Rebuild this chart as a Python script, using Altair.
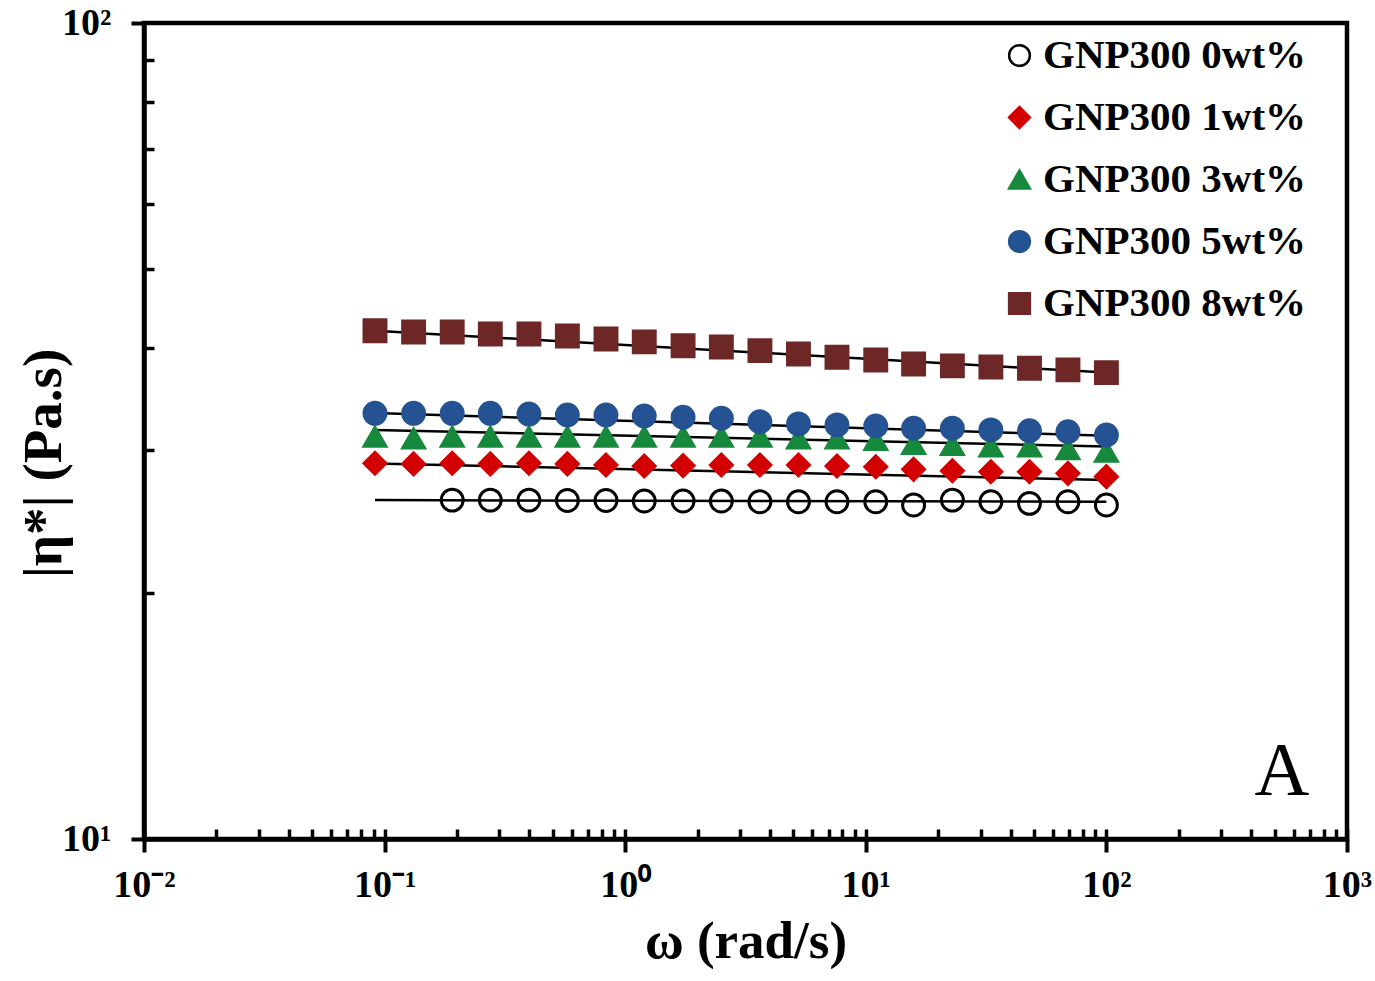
import altair as alt
import pandas as pd

# ---------------- data ----------------
series_names = ["GNP300 0wt%", "GNP300 1wt%", "GNP300 3wt%", "GNP300 5wt%", "GNP300 8wt%"]

omega = [0.0912, 0.132, 0.191, 0.275, 0.398, 0.575, 0.832, 1.20, 1.74, 2.51,
         3.63, 5.25, 7.59, 11.0, 15.8, 22.9, 33.1, 47.9, 69.2, 100.0]

# 0 wt% starts at the third frequency
eta_0wt = [26.02, 26.02, 26.02, 25.99, 25.99, 25.95, 25.95, 25.95, 25.90,
           25.90, 25.90, 25.90, 25.66, 26.02, 25.90, 25.78, 25.90, 25.66]
eta_1wt = [28.87, 28.82, 28.87, 28.82, 28.87, 28.82, 28.73, 28.65, 28.68, 28.73,
           28.73, 28.73, 28.65, 28.59, 28.38, 28.27, 28.19, 28.19, 28.06, 27.80]
eta_3wt = [31.12, 30.97, 31.12, 31.12, 31.12, 31.12, 31.12, 31.12, 31.12, 31.12,
           31.12, 30.97, 30.97, 30.83, 30.48, 30.40, 30.26, 30.26, 30.03, 29.83]
eta_5wt = [33.24, 33.24, 33.24, 33.24, 33.17, 33.08, 33.08, 32.99, 32.87, 32.78,
           32.46, 32.26, 32.17, 32.07, 31.87, 31.87, 31.72, 31.65, 31.56, 31.27]
eta_8wt = [41.97, 41.82, 41.82, 41.58, 41.58, 41.35, 41.00, 40.66, 40.23, 40.08,
           39.67, 39.30, 38.94, 38.64, 38.21, 38.00, 37.89, 37.75, 37.58, 37.29]

# power-law fit lines (start / end)
fit_omega = [0.0912, 100.0]
fit_0wt = [26.02, 25.90]
fit_1wt = [28.85, 27.54]
fit_3wt = [31.71, 30.26]
fit_5wt = [33.27, 31.20]
fit_8wt = [41.97, 37.29]

x_major = [0.01, 0.1, 1, 10, 100, 1000]
x_minor = [m * d for d in [0.01, 0.1, 1, 10, 100] for m in range(2, 10)]
x_tick_labels = ["10⁻²", "10⁻¹", "10⁰", "10¹", "10²", "10³"]
y_major = [10, 100]
y_minor = [20, 30, 40, 50, 60, 70, 80, 90]
y_tick_labels = ["10¹", "10²"]

panel_label = ["A"]
panel_label_omega = [537]
panel_label_eta = [11.32]

shapes = ["circle", "diamond", "triangle-up", "circle", "square"]
fills = ["transparent", "#D20000", "#17893D", "#245292", "#6E2727"]
strokes = ["#000000", "#D20000", "#17893D", "#245292", "#6E2727"]

# ---------------- tables ----------------
pts = []
for name, vals in zip(series_names, [eta_0wt, eta_1wt, eta_3wt, eta_5wt, eta_8wt]):
    xs = omega[len(omega) - len(vals):]
    for x, v in zip(xs, vals):
        pts.append({"series": name, "omega": x, "eta": v})
pts = pd.DataFrame(pts)

fits = []
for name, vals in zip(series_names, [fit_0wt, fit_1wt, fit_3wt, fit_5wt, fit_8wt]):
    for x, v in zip(fit_omega, vals):
        fits.append({"series": name, "omega": x, "eta": v})
fits = pd.DataFrame(fits)

ann = pd.DataFrame({"t": panel_label, "omega": panel_label_omega, "eta": panel_label_eta})

FONT = "Liberation Serif"
x_scale = alt.Scale(type="log", domain=[0.01, 1000], nice=False)
y_scale = alt.Scale(type="log", domain=[10, 100], nice=False)

x_labels_js = "[" + ",".join("'%s'" % s for s in x_tick_labels) + "]"
y_labels_js = "[" + ",".join("'%s'" % s for s in y_tick_labels) + "]"

main_x_axis = alt.Axis(
    orient="bottom", values=x_major, grid=False,
    domain=True, domainColor="black", domainWidth=4.5,
    ticks=True, tickSize=13, tickWidth=4, tickColor="black",
    labelExpr=x_labels_js + "[round(log(datum.value)/LN10)+2]",
    labelFont=FONT, labelFontSize=38, labelFontWeight="bold", labelColor="black",
    labelPadding=14, labelFlush=False, labelOverlap=False,
    title="ω (rad/s)", titleFont=FONT, titleFontSize=53, titleFontWeight="bold",
    titleColor="black", titleBaseline="alphabetic", titleY=118,
)
main_y_axis = alt.Axis(
    orient="left", values=y_major, grid=False,
    domain=True, domainColor="black", domainWidth=4.5,
    ticks=True, tickSize=13, tickWidth=4, tickColor="black",
    labelExpr=y_labels_js + "[round(log(datum.value)/LN10)-1]",
    labelFont=FONT, labelFontSize=38, labelFontWeight="bold", labelColor="black",
    labelPadding=20, labelFlush=False, labelOverlap=False,
    title="|η*| (Pa.s)", titleFont=FONT, titleFontSize=55, titleFontWeight="bold",
    titleColor="black", titleBaseline="alphabetic", titleX=-84, titleY=440,
    titleAngle=270, titleAlign="center",
)
minor_x_axis = alt.Axis(
    orient="bottom", offset=-10, values=x_minor + x_major, grid=False,
    domain=False, labels=False, ticks=True, tickSize=10, tickWidth=3.5,
    tickColor="black", title=None,
)
minor_y_axis = alt.Axis(
    orient="left", offset=-10, values=y_minor, grid=False,
    domain=False, labels=False, ticks=True, tickSize=10, tickWidth=3.5,
    tickColor="black", title=None,
)

legend = alt.Legend(
    title=None, orient="none", legendX=855, legendY=12,
    labelFont=FONT, labelFontSize=41, labelFontWeight="bold", labelColor="black",
    labelLimit=0, labelOffset=3, rowPadding=20, padding=0,
    symbolSize=430, symbolStrokeWidth=2.5,
)

lines = alt.Chart(fits).mark_line(color="black", strokeWidth=2.5).encode(
    x=alt.X("omega:Q", scale=x_scale, axis=minor_x_axis),
    y=alt.Y("eta:Q", scale=y_scale, axis=minor_y_axis),
    detail="series:N",
)

points = alt.Chart(pts).mark_point(opacity=1, fillOpacity=1, strokeWidth=3, size=480).encode(
    x=alt.X("omega:Q", scale=x_scale, axis=main_x_axis),
    y=alt.Y("eta:Q", scale=y_scale, axis=main_y_axis),
    shape=alt.Shape("series:N", scale=alt.Scale(domain=series_names, range=shapes), legend=legend),
    fill=alt.Fill("series:N", scale=alt.Scale(domain=series_names, range=fills), legend=legend),
    stroke=alt.Stroke("series:N", scale=alt.Scale(domain=series_names, range=strokes), legend=legend),
)

label = alt.Chart(ann).mark_text(font=FONT, fontSize=76, align="center",
                                 baseline="alphabetic", color="black").encode(
    x=alt.X("omega:Q", scale=x_scale, axis=None),
    y=alt.Y("eta:Q", scale=y_scale, axis=None),
    text="t:N",
)

chart = alt.layer(lines, points, label).resolve_axis(
    x="independent", y="independent"
).properties(
    width=1203, height=816,
    padding={"left": 144, "top": 23, "right": 28, "bottom": 142},
    autosize=alt.AutoSizeParams(type="none"),
).configure_view(stroke="black", strokeWidth=4.5)

chart.save("out.html", embed_options={"renderer": "svg", "actions": False})
